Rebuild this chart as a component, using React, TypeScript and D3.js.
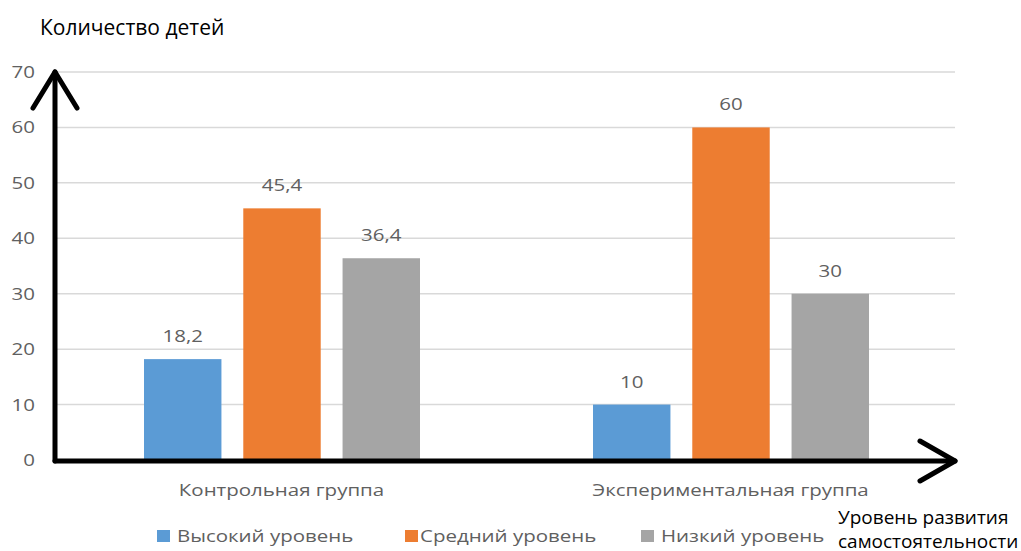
import { useEffect, useRef } from "react"
import * as d3 from "d3"

const groups = ["Контрольная группа", "Экспериментальная группа"]
const seriesNames = ["Высокий уровень", "Средний уровень", "Низкий уровень"]
const highLevel = [18.2, 10]
const midLevel = [45.4, 60]
const lowLevel = [36.4, 30]
const yTicks = [0, 10, 20, 30, 40, 50, 60, 70]
const colors = ["#5B9BD5", "#ED7D31", "#A5A5A5"]

const W = 1021
const H = 551
const FONT = "'Open Sans', 'Noto Sans', sans-serif"
const SX = 1.28 // reference text is stretched horizontally

function App() {
    const ref = useRef<SVGSVGElement>(null)

    useEffect(() => {
        const svg = d3.select(ref.current)
        svg.selectAll("*").remove()

        const values = [highLevel, midLevel, lowLevel]

        const y = d3.scaleLinear().domain([0, 70]).range([460, 72])
        const x0 = d3.scaleBand().domain(groups).range([57, 955]).padding(0)
        const x1 = d3.scaleBand()
            .domain(seriesNames)
            .range([87, 363])
            .paddingInner(0.22)

        // gray stretched text
        const grayText = (parent: any, x: number, yy: number, txt: string, size: number, anchor: string) =>
            parent.append("text")
                .attr("transform", `translate(${x},${yy}) scale(${SX},1)`)
                .attr("text-anchor", anchor)
                .attr("font-family", FONT)
                .attr("font-size", size)
                .attr("font-weight", 500)
                .attr("fill", "#606060")
                .text(txt)

        // Grid
        svg.append("g")
            .selectAll("line")
            .data(yTicks)
            .enter()
            .append("line")
            .attr("x1", 57)
            .attr("x2", 955)
            .attr("y1", d => y(d))
            .attr("y2", d => y(d))
            .attr("stroke", "#d9d9d9")
            .attr("stroke-width", 1.5)

        // Y tick labels
        const ticks = svg.append("g")
        yTicks.forEach(t => grayText(ticks, 35, y(t) + 6, String(t), 16, "end"))

        // Bars
        const g = svg.append("g")
        groups.forEach((grp, gi) => {
            seriesNames.forEach((s, si) => {
                const v = values[si][gi]
                const bx = x0(grp)! + x1(s)!
                g.append("rect")
                    .attr("x", bx)
                    .attr("y", y(v))
                    .attr("width", x1.bandwidth())
                    .attr("height", y(0) - y(v))
                    .attr("fill", colors[si])
                grayText(g, bx + x1.bandwidth() / 2, y(v) - 17, String(v).replace(".", ","), 16, "middle")
            })
        })

        // Category labels
        const cats = svg.append("g")
        groups.forEach(d => grayText(cats, x0(d)! + x0.bandwidth() / 2, 496, d, 16, "middle"))

        // Axes with arrows
        const axis = svg.append("g")
            .attr("fill", "none")
            .attr("stroke", "#000")
            .attr("stroke-width", 5)
            .attr("stroke-linecap", "round")
            .attr("stroke-linejoin", "round")
        axis.append("path").attr("d", "M55,461 L55,72")
        axis.append("path").attr("d", "M33,108 L55,72 L77,108")
        axis.append("path").attr("d", "M55,461 L955,461")
        axis.append("path").attr("d", "M920,441 L955,461 L920,481")

        // Legend
        const squareX = [157, 405, 641]
        const textX = [177, 420, 661]
        const legend = svg.append("g")
        seriesNames.forEach((s, i) => {
            legend.append("rect")
                .attr("x", squareX[i])
                .attr("y", 530)
                .attr("width", 13)
                .attr("height", 12)
                .attr("fill", colors[i])
            grayText(legend, textX[i], 542, s, 16, "start")
        })

        // Axis titles
        svg.append("text")
            .attr("x", 40)
            .attr("y", 35)
            .attr("font-family", FONT)
            .attr("font-size", 21)
            .attr("fill", "#000")
            .text("Количество детей")
        svg.append("text")
            .attr("x", 838)
            .attr("y", 524)
            .attr("font-family", FONT)
            .attr("font-size", 19)
            .attr("fill", "#000")
            .text("Уровень развития")
        svg.append("text")
            .attr("x", 838)
            .attr("y", 548)
            .attr("font-family", FONT)
            .attr("font-size", 19)
            .attr("fill", "#000")
            .text("самостоятельности")
    }, [])

    return (
        <svg
            ref={ref}
            width={W}
            height={H}
            style={{ position: "absolute", left: 0, top: 0, background: "#fff" }}
        ></svg>
    )
}

export default App
